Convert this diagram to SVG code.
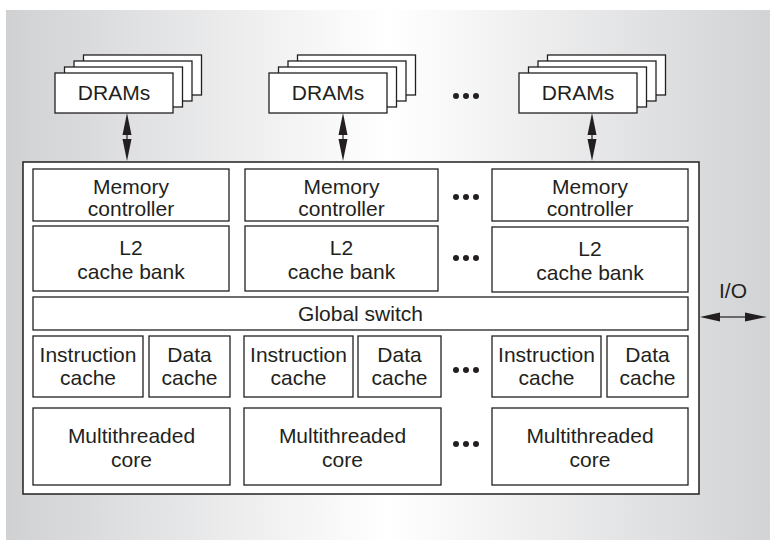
<svg xmlns="http://www.w3.org/2000/svg" width="770" height="541" viewBox="0 0 770 541">
<style>
.b{fill:#fff;stroke:#231f20;stroke-width:1.3}
.o{fill:#fff;stroke:#231f20;stroke-width:1.5}
.t{font-family:"Liberation Sans",Arial,Helvetica,sans-serif;font-size:21px;fill:#231f20;text-anchor:middle}
.d{fill:#231f20}
.ln{stroke:#231f20;stroke-width:1.2;fill:none}
</style>
<defs>
<linearGradient id="bg" x1="0" y1="0" x2="1" y2="0">
<stop offset="0" stop-color="#d0d1d3"/>
<stop offset="0.5" stop-color="#ffffff"/>
<stop offset="1" stop-color="#d2d3d5"/>
</linearGradient>
<g id="stack">
<rect class="b" x="28.5" y="-18" width="118" height="40"/>
<rect class="b" x="19" y="-12" width="118" height="40"/>
<rect class="b" x="9.5" y="-6" width="118" height="40"/>
<rect class="b" x="0" y="0" width="118" height="40"/>
</g>
<g id="dots">
<circle class="d" cx="-10" cy="0" r="3"/>
<circle class="d" cx="0" cy="0" r="3"/>
<circle class="d" cx="10" cy="0" r="3"/>
</g>
</defs>
<rect x="6" y="10" width="764" height="530" fill="url(#bg)"/>

<g id="dram1"><use href="#stack" x="55" y="73"/><text class="t" x="114" y="100">DRAMs</text></g>
<g id="dram2"><use href="#stack" x="269" y="73"/><text class="t" x="328" y="100">DRAMs</text></g>
<g id="dram3"><use href="#stack" x="519" y="73"/><text class="t" x="578" y="100">DRAMs</text></g>

<g id="chip"><rect class="o" x="23" y="162" width="676" height="332"/></g>

<g id="mc1"><rect class="b" x="33" y="169" width="196" height="52"/><text class="t" x="131" y="194">Memory</text><text class="t" x="131" y="216">controller</text></g>
<g id="mc2"><rect class="b" x="245" y="169" width="193" height="52"/><text class="t" x="341.5" y="194">Memory</text><text class="t" x="341.5" y="216">controller</text></g>
<g id="mc3"><rect class="b" x="492" y="169" width="196" height="52"/><text class="t" x="590" y="194">Memory</text><text class="t" x="590" y="216">controller</text></g>

<g id="l2a"><rect class="b" x="33" y="226" width="196" height="65"/><text class="t" x="131" y="255">L2</text><text class="t" x="131" y="279">cache bank</text></g>
<g id="l2b"><rect class="b" x="245" y="226" width="193" height="65"/><text class="t" x="341.5" y="255">L2</text><text class="t" x="341.5" y="279">cache bank</text></g>
<g id="l2c"><rect class="b" x="492" y="227" width="196" height="65"/><text class="t" x="590" y="256">L2</text><text class="t" x="590" y="280">cache bank</text></g>

<g id="switch"><rect class="b" x="33" y="297" width="655" height="33"/><text class="t" x="360.5" y="321">Global switch</text></g>

<g id="ic1"><rect class="b" x="33" y="336" width="110" height="61"/><text class="t" x="88" y="362">Instruction</text><text class="t" x="88" y="385">cache</text></g>
<g id="dc1"><rect class="b" x="149" y="336" width="81" height="61"/><text class="t" x="189.5" y="362">Data</text><text class="t" x="189.5" y="385">cache</text></g>
<g id="ic2"><rect class="b" x="244" y="336" width="109" height="61"/><text class="t" x="298.5" y="362">Instruction</text><text class="t" x="298.5" y="385">cache</text></g>
<g id="dc2"><rect class="b" x="358" y="336" width="83" height="61"/><text class="t" x="399.5" y="362">Data</text><text class="t" x="399.5" y="385">cache</text></g>
<g id="ic3"><rect class="b" x="492" y="336" width="109" height="61"/><text class="t" x="546.5" y="362">Instruction</text><text class="t" x="546.5" y="385">cache</text></g>
<g id="dc3"><rect class="b" x="607" y="336" width="81" height="61"/><text class="t" x="647.5" y="362">Data</text><text class="t" x="647.5" y="385">cache</text></g>

<g id="core1"><rect class="b" x="33" y="408" width="197" height="77"/><text class="t" x="131.5" y="443">Multithreaded</text><text class="t" x="131.5" y="467">core</text></g>
<g id="core2"><rect class="b" x="244" y="408" width="197" height="77"/><text class="t" x="342.5" y="443">Multithreaded</text><text class="t" x="342.5" y="467">core</text></g>
<g id="core3"><rect class="b" x="492" y="408" width="196" height="77"/><text class="t" x="590" y="443">Multithreaded</text><text class="t" x="590" y="467">core</text></g>

<g id="ellipses">
<use href="#dots" x="466" y="96"/>
<use href="#dots" x="466" y="197"/>
<use href="#dots" x="466" y="258"/>
<use href="#dots" x="466" y="370"/>
<use href="#dots" x="466" y="444"/>
</g>

<g id="io"><text class="t" x="733" y="298">I/O</text></g>

<g id="connectors">
<g>
<line class="ln" x1="127" y1="133" x2="127" y2="141"/>
<polygon class="d" points="127,113 122.5,135 131.5,135"/>
<polygon class="d" points="127,161 122.5,139 131.5,139"/>
</g>
<g>
<line class="ln" x1="343" y1="133" x2="343" y2="141"/>
<polygon class="d" points="343,113 338.5,135 347.5,135"/>
<polygon class="d" points="343,161 338.5,139 347.5,139"/>
</g>
<g>
<line class="ln" x1="592" y1="133" x2="592" y2="141"/>
<polygon class="d" points="592,113 587.5,135 596.5,135"/>
<polygon class="d" points="592,161 587.5,139 596.5,139"/>
</g>
<g>
<line class="ln" x1="716" y1="317" x2="748" y2="317"/>
<polygon class="d" points="700,317 720,312.5 720,321.5"/>
<polygon class="d" points="767,317 745,312.5 745,321.5"/>
</g>
</g>
</svg>
